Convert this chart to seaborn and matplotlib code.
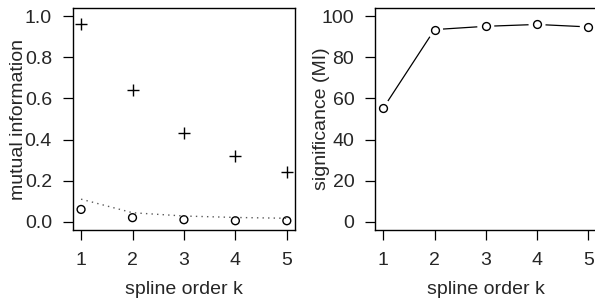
import numpy as np
import pandas as pd
import matplotlib
matplotlib.use("Agg")
import matplotlib.pyplot as plt
import seaborn as sns

# spline order k on the x axis of both panels
k_values = [1, 2, 3, 4, 5]

# left panel: mutual information
mi_plus = [0.963, 0.642, 0.434, 0.320, 0.241]
mi_circle = [0.060, 0.020, 0.010, 0.005, 0.005]
mi_dotted = [0.110, 0.044, 0.028, 0.021, 0.017]

# right panel: significance (MI)
significance = [55.3, 93.5, 95.1, 96.0, 94.8]

sns.set_style("ticks")
plt.rcParams['font.family'] = ['Liberation Sans', 'DejaVu Sans']
plt.rcParams['font.size'] = 14

df = pd.DataFrame({"k": k_values, "plus": mi_plus, "circle": mi_circle,
                   "dotted": mi_dotted, "sig": significance})

fig = plt.figure(figsize=(5.95, 3.01), dpi=100)
ax1 = fig.add_axes([0.1224, 0.2359, 0.3735, 0.7375])
ax2 = fig.add_axes([0.6304, 0.2359, 0.3721, 0.7375])


def style_axis(ax, yticks, ylim, ylabel):
    ax.set_xlim(0.84, 5.16)
    pad = (ylim[1] - ylim[0]) * 0.04
    ax.set_ylim(ylim[0] - pad, ylim[1] + pad)
    ax.set_xticks(k_values)
    ax.set_yticks(yticks)
    ax.set_xlabel("spline order k", fontsize=14, va="center")
    ax.set_ylabel(ylabel, fontsize=14, va="center")
    # labels at a fixed distance from the box, like R's mgp
    ax.xaxis.set_label_coords(0.5, -60 / 222)
    ax.yaxis.set_label_coords(-54 / 222, 0.5)
    ax.tick_params(direction="out", length=7, width=0.9, color="black",
                   labelsize=14, pad=8)
    ax.tick_params(axis="x", pad=9)
    for sp in ax.spines.values():
        sp.set_visible(True)
        sp.set_linewidth(1.0)
        sp.set_color("black")
        sp.set_zorder(3)


# left panel
sns.lineplot(data=df, x="k", y="dotted", ax=ax1, color="0.35",
             linestyle=(0, (1, 3)), linewidth=1.0)
sns.scatterplot(data=df, x="k", y="plus", ax=ax1, marker="+", s=80,
                color="black", linewidth=1.0)
sns.scatterplot(data=df, x="k", y="circle", ax=ax1, marker="o", s=32,
                facecolor="none", edgecolor="black", linewidth=1.0)
style_axis(ax1, [0.0, 0.2, 0.4, 0.6, 0.8, 1.0], (0, 1), "mutual information")
ax1.set_yticklabels(["0.0", "0.2", "0.4", "0.6", "0.8", "1.0"])

# right panel (R type="b": line with gaps around points)
sns.lineplot(data=df, x="k", y="sig", ax=ax2, color="black", linewidth=0.9)
sns.scatterplot(data=df, x="k", y="sig", ax=ax2, marker="o", s=150,
                color="white", edgecolor="none", linewidth=0, zorder=2.5)
sns.scatterplot(data=df, x="k", y="sig", ax=ax2, marker="o", s=32,
                facecolor="white", edgecolor="black", linewidth=1.0, zorder=4)
style_axis(ax2, [0, 20, 40, 60, 80, 100], (0, 100), "significance (MI)")

fig.savefig("out.png", dpi=100)
